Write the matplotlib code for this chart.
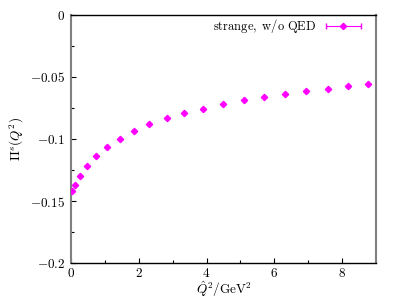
import numpy as np
import matplotlib
matplotlib.use("Agg")
import matplotlib.pyplot as plt
from matplotlib.ticker import FuncFormatter, MultipleLocator

plt.rcParams['mathtext.fontset'] = 'cm'
plt.rcParams['font.family'] = ['DejaVu Serif']

# data
q2 = [0.02, 0.12, 0.27, 0.47, 0.74, 1.06, 1.44, 1.85, 2.31, 2.82,
      3.35, 3.91, 4.50, 5.11, 5.71, 6.33, 6.95, 7.58, 8.18, 8.76]
pi_s = [-0.1417, -0.1369, -0.1298, -0.1220, -0.1140, -0.1067, -0.1000, -0.0938, -0.0881, -0.0833,
        -0.0793, -0.0756, -0.0718, -0.0688, -0.0659, -0.0635, -0.0613, -0.0594, -0.0575, -0.0559]
pi_err = [0.0004] * len(q2)
label = r'$\mathrm{strange,\ w/o\ QED}$'
magenta = '#ff00ff'

fig = plt.figure(figsize=(3.99, 2.99), dpi=100)
ax = fig.add_axes([0.178, 0.120, 0.764, 0.830])

ax.errorbar(q2, pi_s, yerr=pi_err, fmt='D', ms=3.2, color=magenta,
            elinewidth=0.8, capsize=1.5, zorder=3)

ax.set_xlim(0, 9)
ax.set_ylim(-0.2, 0)
ax.xaxis.set_major_locator(MultipleLocator(2))
ax.xaxis.set_minor_locator(MultipleLocator(1))
ax.yaxis.set_major_locator(MultipleLocator(0.05))
ax.yaxis.set_minor_locator(MultipleLocator(0.025))

def fmt(v, pos):
    return r'$%s$' % ('%g' % round(v, 4))

ax.xaxis.set_major_formatter(FuncFormatter(fmt))
ax.yaxis.set_major_formatter(FuncFormatter(fmt))
ax.tick_params(which='both', direction='in', labelsize=9.5, top=False, right=False, width=0.8)
ax.tick_params(which='major', length=3.5, pad=4)
ax.tick_params(axis='x', which='major', pad=3)
ax.tick_params(which='minor', length=2)

for s in ['left', 'right']:
    ax.spines[s].set_color('#808080')
    ax.spines[s].set_linewidth(1.5)
for s in ['top', 'bottom']:
    ax.spines[s].set_color('black')
    ax.spines[s].set_linewidth(1.0)

ax.set_xlabel(r'$\hat{Q}^2/\mathrm{GeV}^2$', fontsize=9.5, labelpad=-1)
ax.set_ylabel(r'$\Pi^s(Q^2)$', fontsize=9.5, labelpad=3)

# gnuplot style legend key
ax.text(0.805, 0.955, label, transform=ax.transAxes, ha='right', va='center', fontsize=9)
ax.plot([0.835, 0.95], [0.955, 0.955], transform=ax.transAxes, color=magenta, lw=0.8,
        marker='|', ms=4, markevery=[0, 1], clip_on=False)
ax.plot([0.8925], [0.955], transform=ax.transAxes, color=magenta, marker='D', ms=3.2, clip_on=False)

fig.savefig('out.png', dpi=100)
